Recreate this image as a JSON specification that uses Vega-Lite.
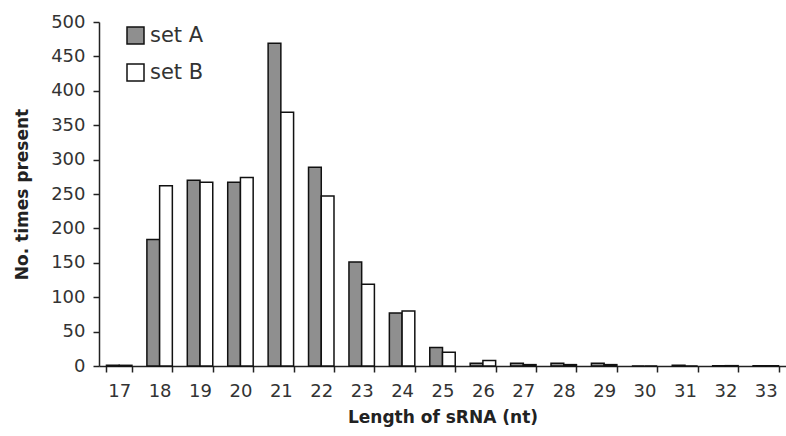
{
  "$schema": "https://vega.github.io/schema/vega-lite/v6.json",
  "autosize": {"type": "none"},
  "padding": {"left": 99, "top": 22, "right": 0, "bottom": 70},
  "width": 687,
  "height": 344,
  "background": "white",
  "config": {
    "font": "DejaVu Sans",
    "view": {"stroke": null},
    "axis": {"labelColor": "#333", "titleColor": "#222", "domainColor": "#222", "tickColor": "#222", "grid": false, "domainWidth": 1.5, "tickWidth": 1.5, "labelFont": "DejaVu Sans", "titleFont": "DejaVu Sans"}
  },
  "data": {
    "values": [
      {"len": "17", "set": "set A", "count": 1},
      {"len": "17", "set": "set B", "count": 1},
      {"len": "18", "set": "set A", "count": 184},
      {"len": "18", "set": "set B", "count": 262},
      {"len": "19", "set": "set A", "count": 270},
      {"len": "19", "set": "set B", "count": 267},
      {"len": "20", "set": "set A", "count": 267},
      {"len": "20", "set": "set B", "count": 274},
      {"len": "21", "set": "set A", "count": 469},
      {"len": "21", "set": "set B", "count": 369},
      {"len": "22", "set": "set A", "count": 289},
      {"len": "22", "set": "set B", "count": 247},
      {"len": "23", "set": "set A", "count": 151},
      {"len": "23", "set": "set B", "count": 119},
      {"len": "24", "set": "set A", "count": 77},
      {"len": "24", "set": "set B", "count": 80},
      {"len": "25", "set": "set A", "count": 27},
      {"len": "25", "set": "set B", "count": 20},
      {"len": "26", "set": "set A", "count": 4},
      {"len": "26", "set": "set B", "count": 8},
      {"len": "27", "set": "set A", "count": 4},
      {"len": "27", "set": "set B", "count": 2},
      {"len": "28", "set": "set A", "count": 4},
      {"len": "28", "set": "set B", "count": 2},
      {"len": "29", "set": "set A", "count": 4},
      {"len": "29", "set": "set B", "count": 2},
      {"len": "30", "set": "set A", "count": 0},
      {"len": "30", "set": "set B", "count": 0},
      {"len": "31", "set": "set A", "count": 1},
      {"len": "31", "set": "set B", "count": 0},
      {"len": "32", "set": "set A", "count": 0.5},
      {"len": "32", "set": "set B", "count": 0.5},
      {"len": "33", "set": "set A", "count": 0.5},
      {"len": "33", "set": "set B", "count": 0.5}
    ]
  },
  "mark": {"type": "bar", "stroke": "#111", "strokeWidth": 1.5},
  "encoding": {
    "x": {
      "field": "len", "type": "ordinal",
      "scale": {"paddingInner": 0.37, "paddingOuter": 0.185},
      "axis": {"title": "Length of sRNA (nt)", "labelAngle": 0, "labelFontSize": 18, "titleFontSize": 17, "titleFontWeight": "bold", "tickBand": "extent", "tickSize": 6, "labelPadding": 10, "titlePadding": 9}
    },
    "xOffset": {"field": "set", "type": "nominal"},
    "y": {
      "field": "count", "type": "quantitative",
      "scale": {"domain": [0, 500], "nice": false},
      "axis": {"title": "No. times present", "values": [0, 50, 100, 150, 200, 250, 300, 350, 400, 450, 500], "labelFontSize": 18, "titleFontSize": 17, "titleFontWeight": "bold", "tickSize": 6, "labelPadding": 8, "titlePadding": 19}
    },
    "fill": {
      "field": "set", "type": "nominal",
      "scale": {"domain": ["set A", "set B"], "range": ["#8f8f8f", "#ffffff"]},
      "legend": {"title": null, "orient": "none", "legendX": 26, "legendY": 3, "symbolType": "square", "symbolSize": 289, "symbolStrokeColor": "#111", "symbolStrokeWidth": 1.5, "labelFontSize": 21, "labelFont": "DejaVu Sans", "labelColor": "#333", "rowPadding": 14, "labelOffset": 4}
    }
  }
}
